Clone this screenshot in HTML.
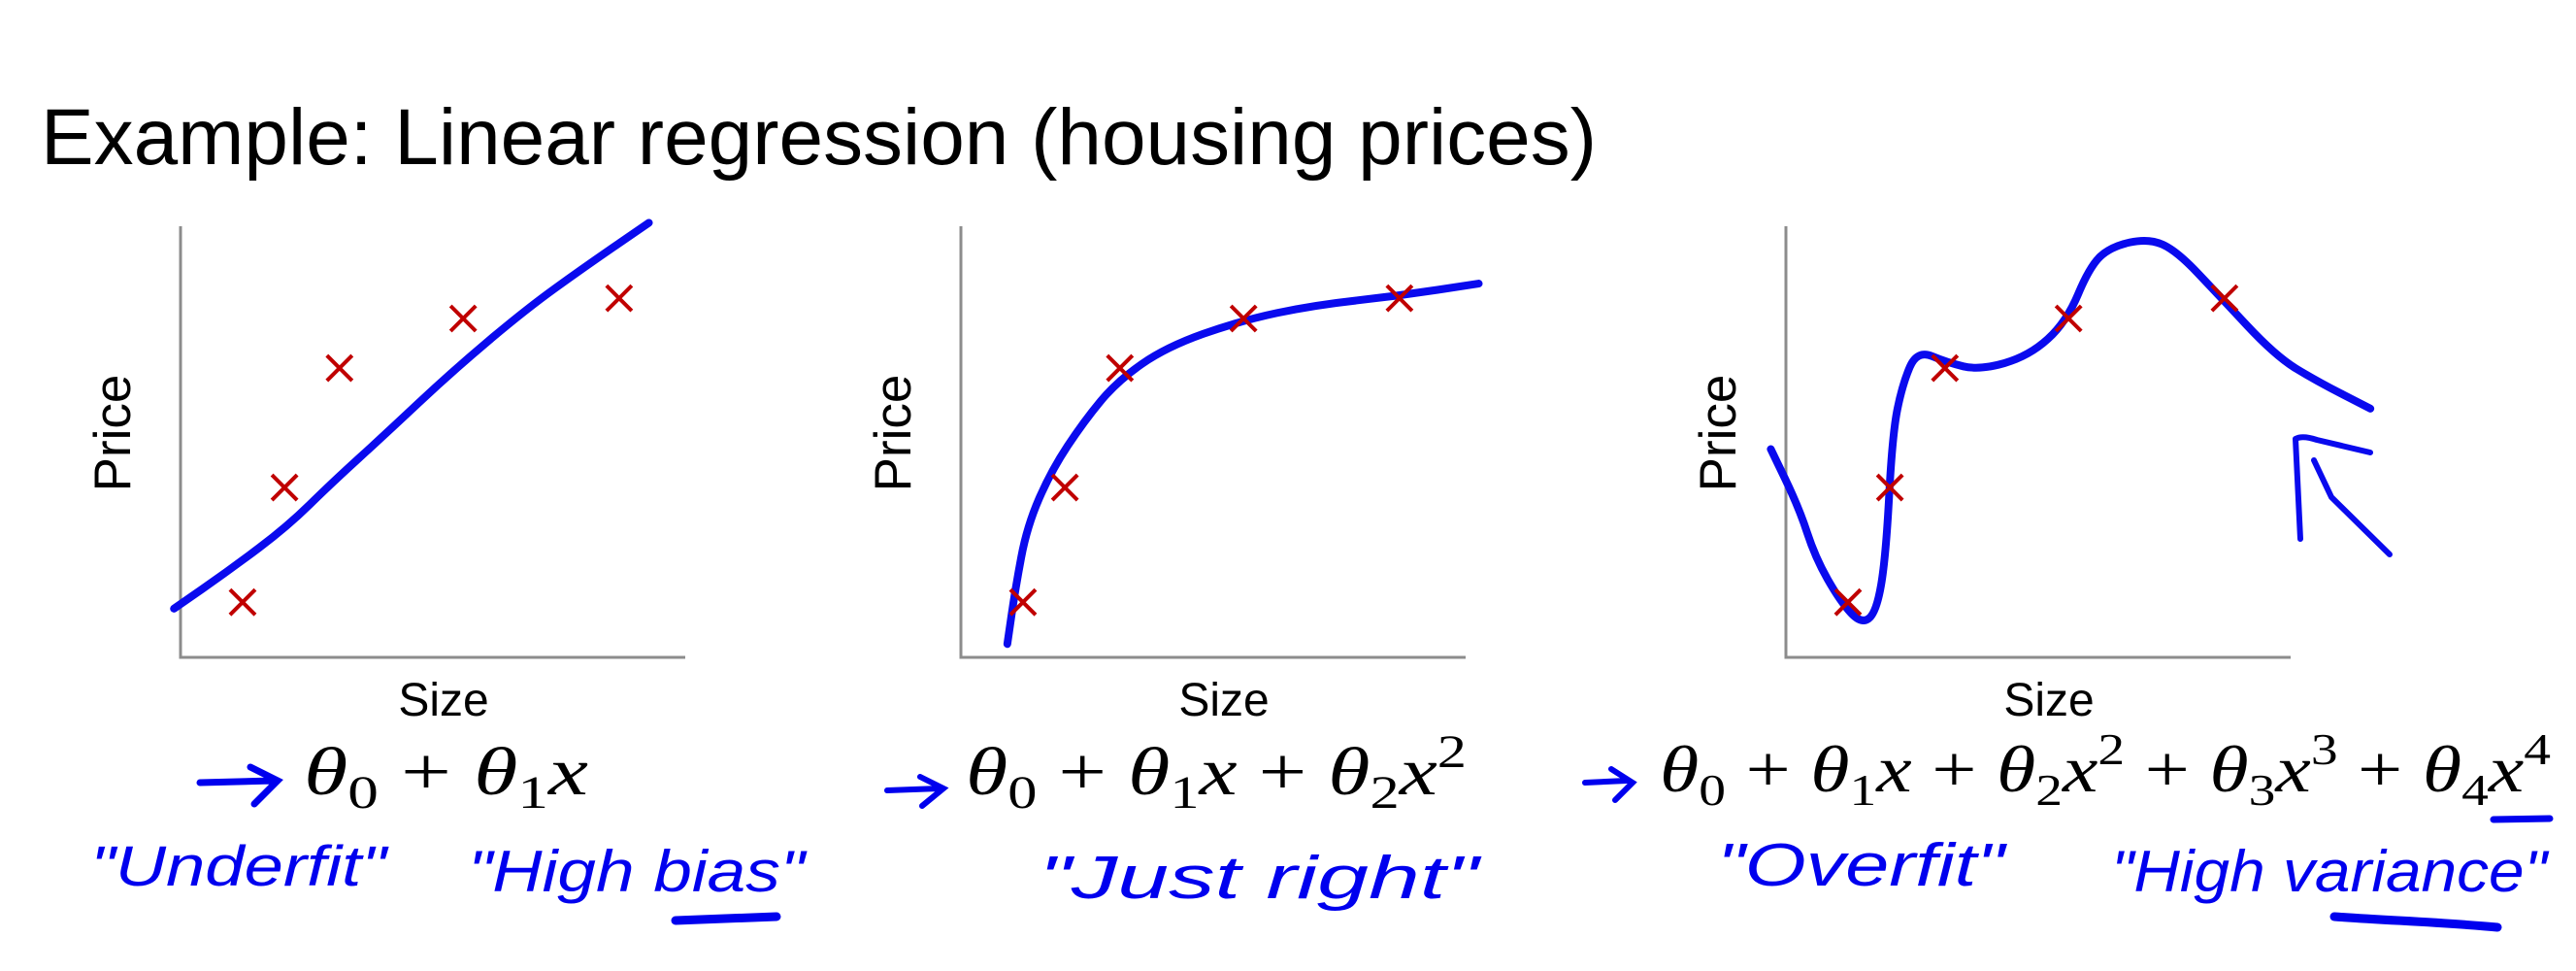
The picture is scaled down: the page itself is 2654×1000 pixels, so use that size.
<!DOCTYPE html>
<html><head><meta charset="utf-8">
<style>
html,body{margin:0;padding:0;background:#fff;}
svg{display:block;}
.hand{font-family:"Liberation Sans",sans-serif;fill:#0000ee;font-style:italic;}
.math{font-family:"Liberation Serif",serif;fill:#000;}
</style></head>
<body>
<svg id="root" width="2654" height="1000" viewBox="0 0 2654 1000" xmlns="http://www.w3.org/2000/svg">
<text x="42" y="169" font-family="Liberation Sans, sans-serif" font-size="82" textLength="1603" lengthAdjust="spacingAndGlyphs">Example: Linear regression (housing prices)</text>
<g id="charts"></g>

<g>
<path d="M206 806 L282 804 M258 790 L286 804 L262 828" stroke="#0000ee" stroke-width="7" fill="none" stroke-linecap="round"/>
<text class="math" x="313" y="818" font-size="70" textLength="293" lengthAdjust="spacingAndGlyphs"><tspan font-style="italic">θ</tspan><tspan font-size="48" dy="14">0</tspan><tspan dy="-14"> + </tspan><tspan font-style="italic">θ</tspan><tspan font-size="48" dy="14">1</tspan><tspan font-style="italic" dy="-14">x</tspan></text>
</g>
<g>
<path d="M914 814 L968 812 M948 800 L972 812 L950 830" stroke="#0000ee" stroke-width="6" fill="none" stroke-linecap="round"/>
<text class="math" x="995" y="818" font-size="70" textLength="516" lengthAdjust="spacingAndGlyphs"><tspan font-style="italic">θ</tspan><tspan font-size="48" dy="14">0</tspan><tspan dy="-14"> + </tspan><tspan font-style="italic">θ</tspan><tspan font-size="48" dy="14">1</tspan><tspan font-style="italic" dy="-14">x</tspan><tspan> + </tspan><tspan font-style="italic">θ</tspan><tspan font-size="48" dy="14">2</tspan><tspan font-style="italic" dy="-14">x</tspan><tspan font-size="48" dy="-28">2</tspan></text>
</g>
<g>
<path d="M1633 806 L1676 804 M1660 792 L1682 806 L1664 824" stroke="#0000ee" stroke-width="6" fill="none" stroke-linecap="round"/>
<text class="math" x="1710" y="815" font-size="68" textLength="918" lengthAdjust="spacingAndGlyphs"><tspan font-style="italic">θ</tspan><tspan font-size="46" dy="14">0</tspan><tspan dy="-14"> + </tspan><tspan font-style="italic">θ</tspan><tspan font-size="46" dy="14">1</tspan><tspan font-style="italic" dy="-14">x</tspan><tspan> + </tspan><tspan font-style="italic">θ</tspan><tspan font-size="46" dy="14">2</tspan><tspan font-style="italic" dy="-14">x</tspan><tspan font-size="46" dy="-28">2</tspan><tspan dy="28"> + </tspan><tspan font-style="italic">θ</tspan><tspan font-size="46" dy="14">3</tspan><tspan font-style="italic" dy="-14">x</tspan><tspan font-size="46" dy="-28">3</tspan><tspan dy="28"> + </tspan><tspan font-style="italic">θ</tspan><tspan font-size="46" dy="14">4</tspan><tspan font-style="italic" dy="-14">x</tspan><tspan font-size="46" dy="-28">4</tspan></text>
<path d="M2569 844 L2627 843" stroke="#0000ee" stroke-width="7" stroke-linecap="round"/>
</g>

<text class="hand" x="93" y="912" font-size="58" textLength="305" lengthAdjust="spacingAndGlyphs">"Underfit"</text>
<text class="hand" x="482" y="918" font-size="60" textLength="347" lengthAdjust="spacingAndGlyphs">"High bias"</text>
<path d="M696 948 L800 944" stroke="#0000ee" stroke-width="9" stroke-linecap="round"/>
<text class="hand" x="1070" y="925" font-size="62" textLength="453" lengthAdjust="spacingAndGlyphs">"Just right"</text>
<text class="hand" x="1769" y="912" font-size="62" textLength="296" lengthAdjust="spacingAndGlyphs">"Overfit"</text>
<text class="hand" x="2175" y="918" font-size="60" textLength="449" lengthAdjust="spacingAndGlyphs">"High variance"</text>
<path d="M2405 944 C2460 948 2520 950 2573 955" stroke="#0000ee" stroke-width="9" fill="none" stroke-linecap="round"/>
</svg>
<script>
// shared data (Size, Price) in 0..100 chart units
const sizeVals = [12.3, 20.6, 31.5, 56.0, 86.9];
const priceVals = [12.8, 39.4, 67.1, 78.6, 83.3];
// fitted curves
const fit1X = [-1.3, 10, 21.2, 30, 40.7, 53.8, 68.4, 80, 92.8];
const fit1Y = [11.3, 20.5, 30.4, 40.5, 51.9, 66.3, 80.7, 90.5, 100.8];
const fit2X = [9.2, 10.8, 13.1, 17.9, 24.4, 31.0, 40.7, 55.4, 70.0, 86.3, 102.6];
const fit2Y = [3.1, 16.0, 30.4, 43.3, 54.8, 64.1, 72.0, 78.1, 81.7, 83.8, 86.7];
const fit3X = [-3, 2.6, 5.8, 10.7, 14.9, 17.9, 19.8, 21.1, 23.1, 26.0, 31.9, 38.4, 48.2, 55.6, 60.2, 64.4, 71.9, 77.4, 85.6, 97.0, 105.1, 115.8];
const fit3Y = [48.3, 34.7, 23.2, 13.1, 7.7, 10.3, 23.2, 51.9, 63.4, 71.3, 68.4, 66.6, 69.9, 77.8, 90.7, 95.3, 97.2, 94.3, 84.2, 69.9, 64.1, 57.7];

const SVGNS = 'http://www.w3.org/2000/svg';
const chartsG = document.getElementById('charts');
const chartDefs = [
  {ax:186, fx:fit1X, fy:fit1Y, name:'linear'},
  {ax:990, fx:fit2X, fy:fit2Y, name:'quadratic'},
  {ax:1840, fx:fit3X, fy:fit3Y, name:'quartic'}
];
const yTop = 233, yBottom = 677, plotW = 520;
function mk(tag, attrs){const e=document.createElementNS(SVGNS,tag);for(const k in attrs)e.setAttribute(k,attrs[k]);return e;}
chartDefs.forEach(c=>{
  const sx = v => c.ax + v*plotW/100;
  const sy = v => yBottom - v*(yBottom-yTop)/100;
  const grp = mk('g',{});
  
  
  chartsG.appendChild(grp);
  const axes = mk('path',{d:`M${c.ax} ${yTop} L${c.ax} ${yBottom} L${c.ax+plotW} ${yBottom}`,stroke:'#8c8c8c','stroke-width':3,fill:'none'});
  
  
  grp.appendChild(axes);
  const yl = mk('text',{x:0,y:0,'font-family':'Liberation Sans, sans-serif','font-size':53,'text-anchor':'middle',transform:`translate(${c.ax-52},446) rotate(-90)`});
  yl.textContent='Price';
  
  
  grp.appendChild(yl);
  const xl = mk('text',{x:c.ax+271,y:737,'font-family':'Liberation Sans, sans-serif','font-size':48,'text-anchor':'middle'});
  xl.textContent='Size';
  
  
  grp.appendChild(xl);
  let d='';
  c.fx.forEach((v,i)=>{const px=sx(v),py=sy(c.fy[i]);
    if(i===0)d+=`M${px} ${py}`;
    else{const px0=sx(c.fx[i-1]),py0=sy(c.fy[i-1]);d+=` Q${px0} ${py0} ${(px0+px)/2} ${(py0+py)/2}`;}
  });
  d+=` L${sx(c.fx[c.fx.length-1])} ${sy(c.fy[c.fy.length-1])}`;
  const curve = mk('path',{d:d,stroke:'#0a0aee','stroke-width':8,fill:'none','stroke-linecap':'round','stroke-linejoin':'round'});
  
  
  grp.appendChild(curve);
  sizeVals.forEach((v,i)=>{
    const px=sx(v),py=sy(priceVals[i]),h=13;
    const xm = mk('path',{d:`M${px-h} ${py-h} L${px+h} ${py+h} M${px+h} ${py-h} L${px-h} ${py+h}`,stroke:'#c00000','stroke-width':4});
    
    
    grp.appendChild(xm);
  });
});
const arr = mk('path',{d:'M2370 555 L2365 452 Q2372 448 2387 453 L2442 466 M2384 474 L2402 512 L2462 571',stroke:'#0a0aee','stroke-width':6,fill:'none','stroke-linecap':'round','stroke-linejoin':'round'});


chartsG.appendChild(arr);
</script>
</body></html>
